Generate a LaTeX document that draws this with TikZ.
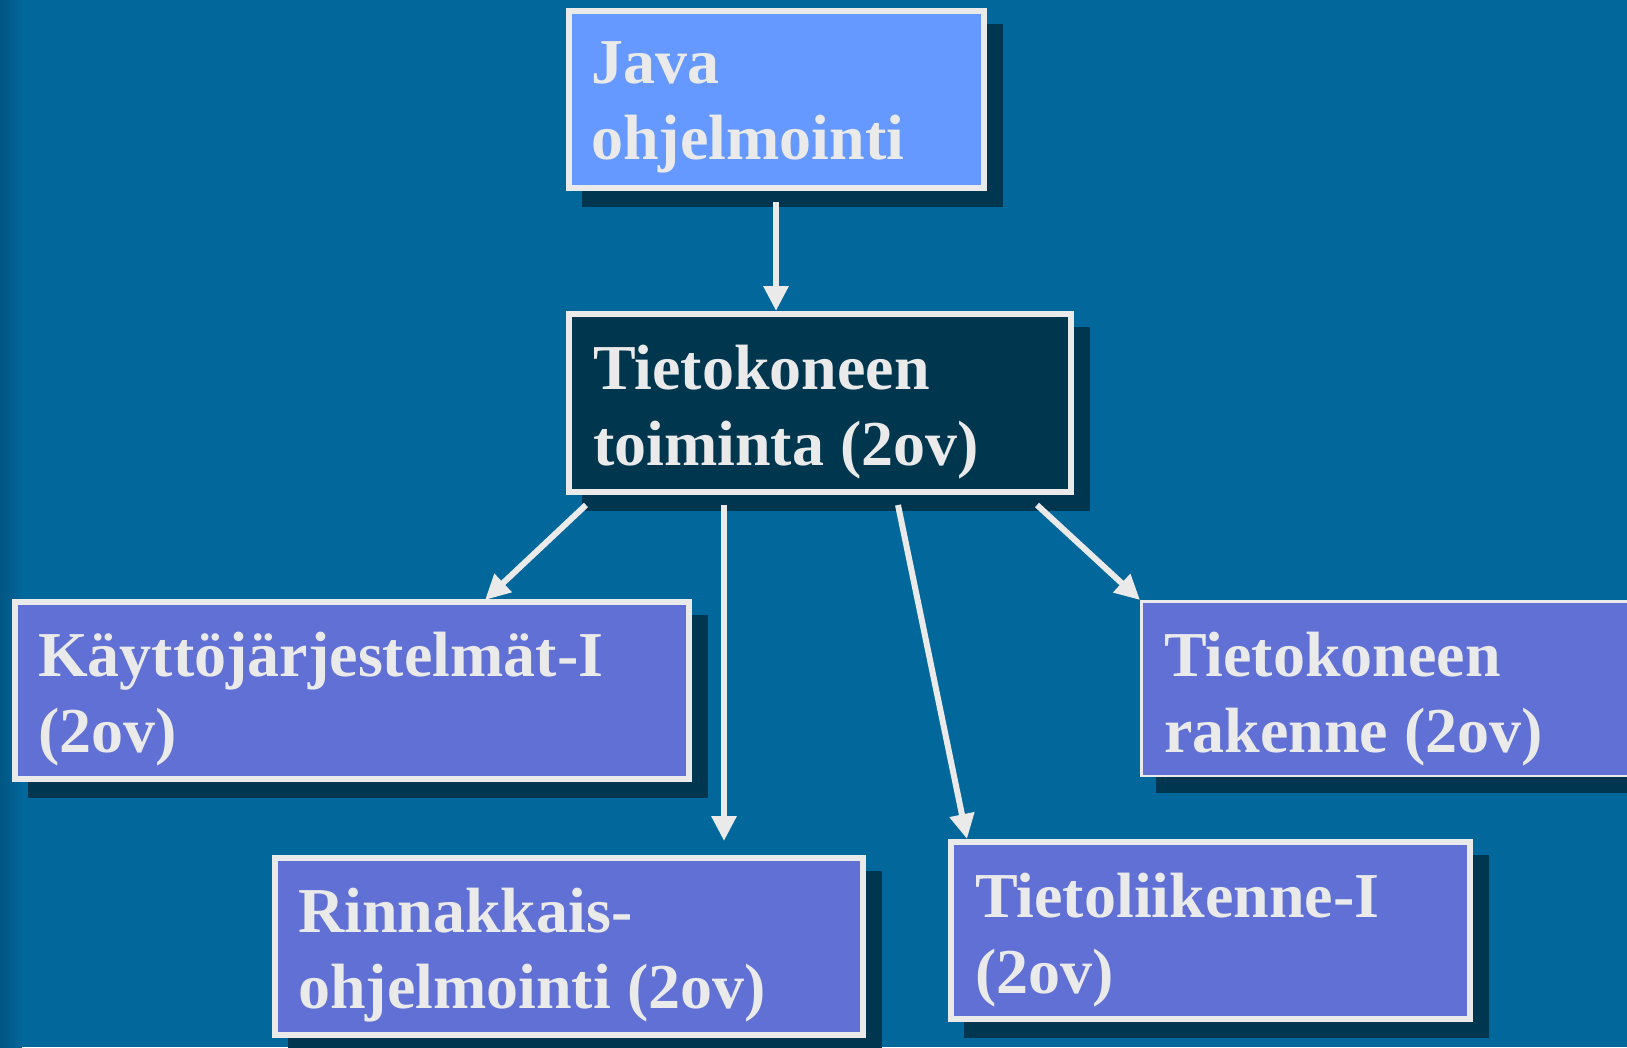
\documentclass[tikz,border=0pt]{standalone}
\usepackage{fontspec}
\setmainfont{Liberation Serif}
\usetikzlibrary{arrows.meta,backgrounds}
\definecolor{bgc}{HTML}{02679B}
\definecolor{bgdark}{HTML}{015683}
\definecolor{shadowc}{HTML}{00364F}
\definecolor{darkc}{HTML}{00374F}
\definecolor{javac}{HTML}{6699FF}
\definecolor{midc}{HTML}{6070D4}
\definecolor{linec}{HTML}{EAEAEA}
\newcommand{\twoln}[2]{\vtop{\baselineskip=76pt\hbox{#1}\hbox{#2}}}
\tikzset{
  boxthick/.style={draw=linec,line width=6pt,inner sep=0pt,outer sep=0pt,rectangle},
  boxthin/.style={draw=linec,line width=2.5pt,inner sep=0pt,outer sep=0pt,rectangle},
  lbl/.style={anchor=base west,inner sep=0pt,text=linec,font=\fontsize{64}{76}\selectfont\bfseries},
  arr/.style={draw=linec,line width=6pt,-{Triangle[length=25pt,width=24pt]}}
}
\begin{document}
\begin{tikzpicture}[x=1pt,y=-1pt]
\useasboundingbox (0,0) rectangle (1627,1047);
\clip (0,0) rectangle (1627,1047);
% boxes (outer edges given in pixel coordinates)
\node[boxthick,fill=javac,minimum width=415pt,minimum height=177pt] (java) at (776.5,99.5) {};
\node[boxthick,fill=darkc,minimum width=502pt,minimum height=178pt] (dark) at (820,403) {};
\node[boxthick,fill=midc,minimum width=674pt,minimum height=177pt] (kaytto) at (352,690.5) {};
\node[boxthick,fill=midc,minimum width=588pt,minimum height=177pt] (rinn) at (569,946.5) {};
\node[boxthin,fill=midc,minimum width=497.5pt,minimum height=174.5pt] (rak) at (1390,688.5) {};
\node[boxthick,fill=midc,minimum width=519pt,minimum height=177pt] (tliik) at (1210.5,930.5) {};
% labels
\node[lbl] (javaT) at (591,83) {\twoln{Java}{ohjelmointi}};
\node[lbl] (darkT) at (593,389) {\twoln{Tietokoneen}{toiminta (2ov)}};
\node[lbl] (kayttoT) at (38,676) {\twoln{Käyttöjärjestelmät-I}{(2ov)}};
\node[lbl] (rinnT) at (298,932) {\twoln{Rinnakkais-}{ohjelmointi (2ov)}};
\node[lbl] (rakT) at (1164,676) {\twoln{Tietokoneen}{rakenne (2ov)}};
\node[lbl] (tliikT) at (975,917) {\twoln{Tietoliikenne-I}{(2ov)}};
% background and shadows
\begin{scope}[on background layer]
  \fill[bgc] (0,0) rectangle (1627,1047);
  \shade[left color=bgdark,right color=bgc] (0,0) rectangle (22,1047);
  \foreach \n in {java,dark,kaytto,rinn,tliik}{
    \fill[shadowc] ([shift={(13,13)}]\n.north west) rectangle ([shift={(19,19)}]\n.south east);
  }
  \fill[shadowc] ([shift={(14.75,14.75)}]rak.north west) rectangle ([shift={(17.25,17.25)}]rak.south east);
\end{scope}
% connector ends
\coordinate (s1) at (776,202);
\coordinate (t1) at (776,311);
\coordinate (s2) at (586,505);
\coordinate (t2) at (485,600);
\coordinate (s3) at (724,505);
\coordinate (t3) at (724,841);
\coordinate (s4) at (898,505);
\coordinate (t4) at (967,839);
\coordinate (s5) at (1037,505);
\coordinate (t5) at (1140,600);
\draw[arr] (s1) -- (t1);
\draw[arr] (s2) -- (t2);
\draw[arr] (s3) -- (t3);
\draw[arr] (s4) -- (t4);
\draw[arr] (s5) -- (t5);
\end{tikzpicture}
\end{document}
